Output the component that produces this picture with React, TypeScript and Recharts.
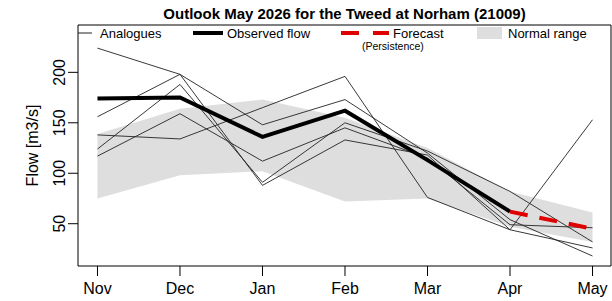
import {
  Area,
  CartesianGrid,
  ComposedChart,
  Legend,
  Line,
  XAxis,
  YAxis
} from 'recharts';

const months = ['Nov', 'Dec', 'Jan', 'Feb', 'Mar', 'Apr', 'May'];
const observed = [174, 175, 136, 162, 113, 62, null];
const forecast = [null, null, null, null, null, 62, 45];
const normalLow = [75, 98, 102, 72, 75, 47, 32];
const normalHigh = [139, 164, 173, 155, 125, 82, 61];
const analogue1 = [224, 198, 88, 133, 118, 44, 26];
const analogue2 = [156, 198, 148, 173, 120, 54, 18];
const analogue3 = [124, 188, 91, 150, 122, 82, 32];
const analogue4 = [117, 159, 112, 145, 115, 49, 46];
const analogue5 = [138, 134, 165, 196, 76, 44, 153];
const yTicks = [50, 100, 150, 200];

const FONT = '"Liberation Sans", Arial, sans-serif';

const data = months.map((m, i) => ({
  idx: i,
  month: m,
  observed: observed[i],
  forecast: forecast[i],
  range: [normalLow[i], normalHigh[i]],
  a1: analogue1[i],
  a2: analogue2[i],
  a3: analogue3[i],
  a4: analogue4[i],
  a5: analogue5[i]
}));

const analogueKeys = ['a1', 'a2', 'a3', 'a4', 'a5'];

function YTick({ x, y, payload }: any) {
  return (
    <text
      x={x - 0.5}
      y={y}
      transform={`rotate(-90, ${x - 0.5}, ${y})`}
      textAnchor="middle"
      fontSize={16}
      fontFamily={FONT}
      fill="#000"
    >
      {payload.value}
    </text>
  );
}

function YLabel({ viewBox }: any) {
  const x = viewBox.x + 38;
  const y = viewBox.y + viewBox.height / 2;
  return (
    <text
      x={x}
      y={y}
      transform={`rotate(-90, ${x}, ${y})`}
      textAnchor="middle"
      fontSize={16}
      fontFamily={FONT}
      fill="#000"
    >
      Flow [m3/s]
    </text>
  );
}

function Header() {
  return (
    <svg width={612} height={52} style={{ display: 'block' }}>
      <text x={344.5} y={19} textAnchor="middle" fontSize={15} fontWeight="bold" fontFamily={FONT} fill="#000">
        Outlook May 2026 for the Tweed at Norham (21009)
      </text>
      <line x1={78} x2={92} y1={33} y2={33} stroke="#222" strokeWidth={1} />
      <text x={100} y={38} fontSize={13} fontFamily={FONT} fill="#000">Analogues</text>
      <line x1={193} x2={223} y1={33} y2={33} stroke="#000" strokeWidth={4} />
      <text x={227} y={38} fontSize={13} fontFamily={FONT} fill="#000">Observed flow</text>
      <line x1={341} x2={389} y1={33} y2={33} stroke="#e00000" strokeWidth={4} strokeDasharray="18 14" />
      <text x={393} y={38} fontSize={13} fontFamily={FONT} fill="#000">Forecast</text>
      <text x={362} y={49.5} fontSize={10.5} fontFamily={FONT} fill="#000">(Persistence)</text>
      <rect x={477} y={27} width={25} height={12} fill="#dedede" />
      <text x={508} y={38} fontSize={13} fontFamily={FONT} fill="#000">Normal range</text>
    </svg>
  );
}

export default function App() {
  return (
    <div style={{ position: 'absolute', left: 0, top: 0, width: 612, height: 301, background: '#fff' }}>
      <ComposedChart
        width={612}
        height={301}
        data={data}
        margin={{ top: 25, right: 1, bottom: 0, left: 0 }}
      >
        <Area
          dataKey="range"
          stroke="none"
          fill="#dedede"
          fillOpacity={1}
          isAnimationActive={false}
          activeDot={false}
        />
        <CartesianGrid
          stroke="#000"
          strokeWidth={1}
          horizontalCoordinatesGenerator={({ offset }: any) => [offset.top, offset.top + offset.height]}
          verticalCoordinatesGenerator={({ offset }: any) => [offset.left, offset.left + offset.width]}
        />
        <XAxis
          dataKey="idx"
          type="number"
          domain={[-0.236, 6.224]}
          ticks={[0, 1, 2, 3, 4, 5, 6]}
          tickFormatter={(v: number) => months[v]}
          allowDataOverflow
          axisLine={false}
          tickLine={{ stroke: '#000' }}
          tickSize={10}
          tickMargin={7}
          height={35}
          tick={{ fontSize: 16, fill: '#000', fontFamily: FONT }}
        />
        <YAxis
          type="number"
          domain={[8.1, 246.9]}
          ticks={yTicks}
          allowDataOverflow
          axisLine={false}
          tickLine={{ stroke: '#000' }}
          tickSize={10}
          width={78}
          tick={<YTick />}
          label={<YLabel />}
        />
        {analogueKeys.map((k) => (
          <Line
            key={k}
            dataKey={k}
            stroke="#222"
            strokeWidth={0.9}
            dot={false}
            activeDot={false}
            isAnimationActive={false}
          />
        ))}
        <Line
          dataKey="observed"
          stroke="#000"
          strokeWidth={4}
          dot={false}
          activeDot={false}
          isAnimationActive={false}
        />
        <Line
          dataKey="forecast"
          stroke="#e00000"
          strokeWidth={4}
          strokeDasharray="18 12"
          dot={false}
          activeDot={false}
          isAnimationActive={false}
        />
        <Legend
          verticalAlign="middle"
          align="center"
          layout="horizontal"
          wrapperStyle={{ position: 'absolute', top: 0, left: 0, width: 612, height: 52 }}
          content={() => <Header />}
        />
      </ComposedChart>
    </div>
  );
}
